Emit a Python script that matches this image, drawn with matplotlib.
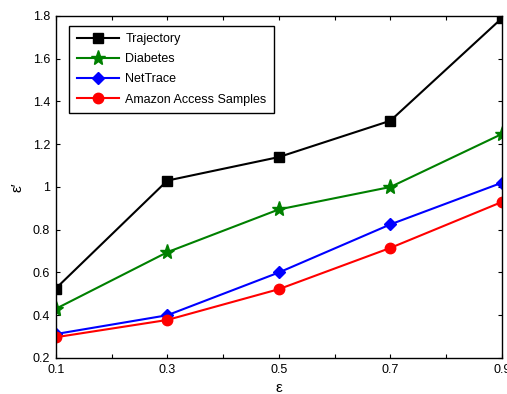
import matplotlib
matplotlib.use("Agg")
import matplotlib.pyplot as plt
from matplotlib.ticker import FuncFormatter

plt.rcParams['font.family'] = ['Liberation Sans', 'DejaVu Sans']

eps = [0.1, 0.3, 0.5, 0.7, 0.9]
trajectory = [0.525, 1.03, 1.14, 1.31, 1.79]
diabetes = [0.43, 0.695, 0.895, 1.0, 1.248]
nettrace = [0.312, 0.40, 0.60, 0.825, 1.02]
amazon = [0.297, 0.378, 0.522, 0.715, 0.93]
series_names = ["Trajectory", "Diabetes", "NetTrace", "Amazon Access Samples"]
xticks = [0.1, 0.2, 0.3, 0.4, 0.5, 0.6, 0.7, 0.8, 0.9]
yticks = [0.2, 0.4, 0.6, 0.8, 1.0, 1.2, 1.4, 1.6, 1.8]

fig = plt.figure(figsize=(5.07, 3.94), dpi=100)
ax = fig.add_axes([0.110, 0.0914, 0.880, 0.868])

ax.plot(eps, trajectory, color='black', marker='s', markersize=7, lw=1.5, label=series_names[0])
ax.plot(eps, diabetes, color='green', marker='*', markersize=11, lw=1.5, label=series_names[1])
ax.plot(eps, nettrace, color='blue', marker='D', markersize=6, lw=1.5, label=series_names[2])
ax.plot(eps, amazon, color='red', marker='o', markersize=7.5, lw=1.5, label=series_names[3])

ax.set_xlim(0.1, 0.9)
ax.set_ylim(0.2, 1.8)
ax.set_xticks(xticks)
ax.set_xticklabels([("%g" % v) if i % 2 == 0 else "" for i, v in enumerate(xticks)])
ax.set_yticks(yticks)
ax.yaxis.set_major_formatter(FuncFormatter(lambda v, p: "%g" % round(v, 1)))
ax.tick_params(direction='in', top=True, right=True, labelsize=9, length=3, width=0.8, pad=4)
for s in ax.spines.values():
    s.set_linewidth(1.0)

ax.set_xlabel("ε", fontsize=11, labelpad=4)
ax.set_ylabel("ε′", fontsize=11, labelpad=6)

leg = ax.legend(loc='upper left', bbox_to_anchor=(0.016, 0.99), fontsize=9, fancybox=False,
                edgecolor='black', framealpha=1, handlelength=3.4, handletextpad=0.5,
                borderpad=0.6, labelspacing=0.65)
leg.get_frame().set_linewidth(1.0)

fig.savefig("out.png", dpi=100)
